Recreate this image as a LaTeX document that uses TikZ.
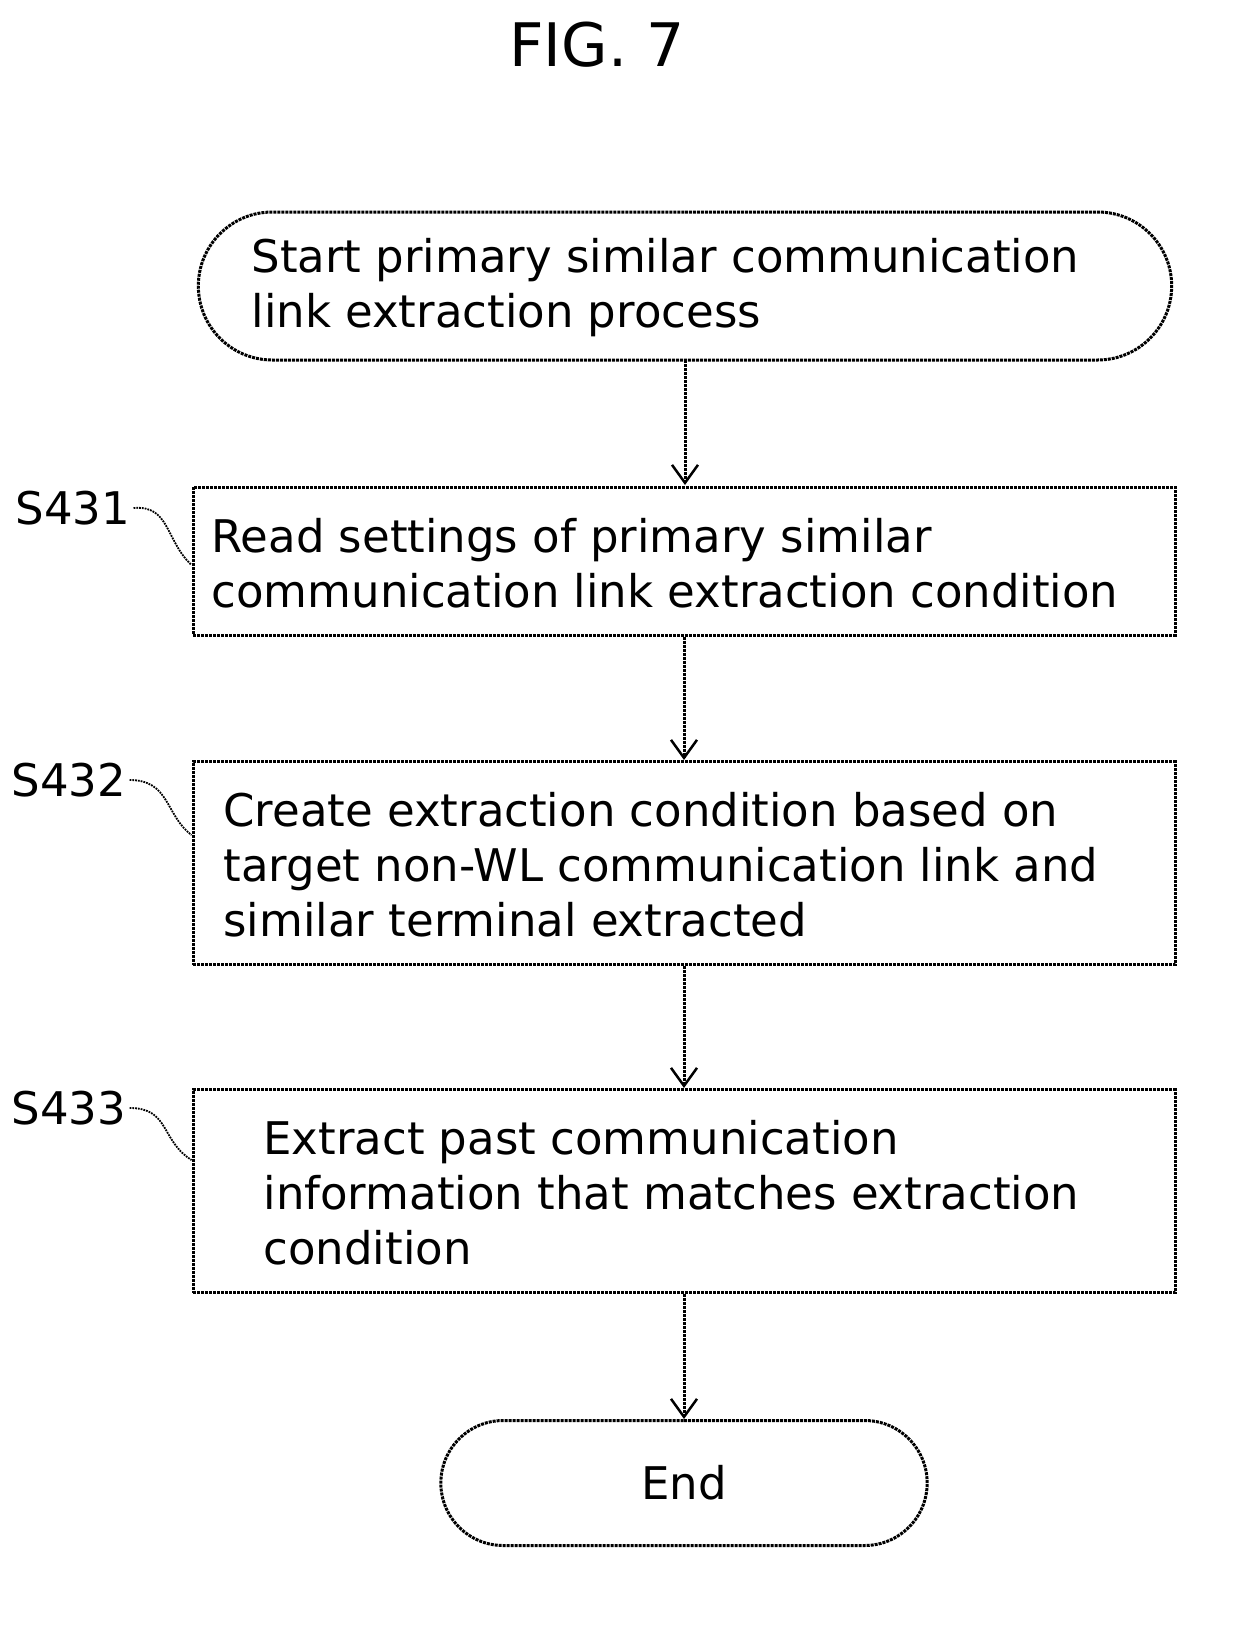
\documentclass[tikz,border=0pt]{standalone}
\usepackage{fontspec}
\setmainfont{DejaVu Sans}
\usetikzlibrary{arrows.meta,shapes.misc}
\begin{document}
\begin{tikzpicture}[x=1pt,y=-1pt,
  txt/.style={font=\fontsize{45}{55}\selectfont},
  box/.style={draw,line width=3pt,densely dotted},
  arr/.style={line width=3pt,densely dotted,-{Straight Barb[length=18pt,width=26pt,line width=2.5pt]}},
  lead/.style={line width=1.8pt,densely dotted},
  lab/.style={txt,anchor=west}]
\useasboundingbox (0,0) rectangle (1252,1639);
\node[font=\fontsize{60}{64}\selectfont] (title) at (597,45) {FIG. 7};
% start
\node[box,rounded rectangle,minimum width=980pt,minimum height=148pt] (start) at (685,286) {};
\node[txt,anchor=west,align=left] (starttxt) at (248,288) {Start primary similar communication\\link extraction process};
% boxes
\node[box,minimum width=982pt,minimum height=148pt] (s431) at (684,561) {};
\node[txt,anchor=west,align=left] (t431) at (208,563) {Read settings of primary similar\\communication link extraction condition};
\node[box,minimum width=982pt,minimum height=203pt] (s432) at (684,863) {};
\node[txt,anchor=west,align=left] (t432) at (220,865) {Create extraction condition based on\\target non-WL communication link and\\similar terminal extracted};
\node[box,minimum width=982pt,minimum height=203pt] (s433) at (684,1191) {};
\node[txt,anchor=west,align=left] (t433) at (260,1193) {Extract past communication\\information that matches extraction\\condition};
\node[box,rounded rectangle,minimum width=493pt,minimum height=125pt] (end) at (684,1483) {};
\node[txt] (endtxt) at (684,1483) {End};
% arrows
\draw[arr] (685,360) -- (685,485);
\draw[arr] (s431.south) -- (s432.north);
\draw[arr] (s432.south) -- (s433.north);
\draw[arr] (s433.south) -- (end.north);
% labels
\node[lab] (l431) at (12,508) {S431};
\node[lab] (l432) at (8,780) {S432};
\node[lab] (l433) at (8,1108) {S433};
\coordinate (c431) at (s431.west |- 0,565);
\coordinate (c432) at (s432.west |- 0,835);
\coordinate (c433) at (s433.west |- 0,1160);
\draw[lead] (l431.east) .. controls (170,505) and (165,540) .. (c431);
\draw[lead] (l432.east) .. controls (170,780) and (165,815) .. (c432);
\draw[lead] (l433.east) .. controls (170,1108) and (160,1140) .. (c433);
\end{tikzpicture}
\end{document}
